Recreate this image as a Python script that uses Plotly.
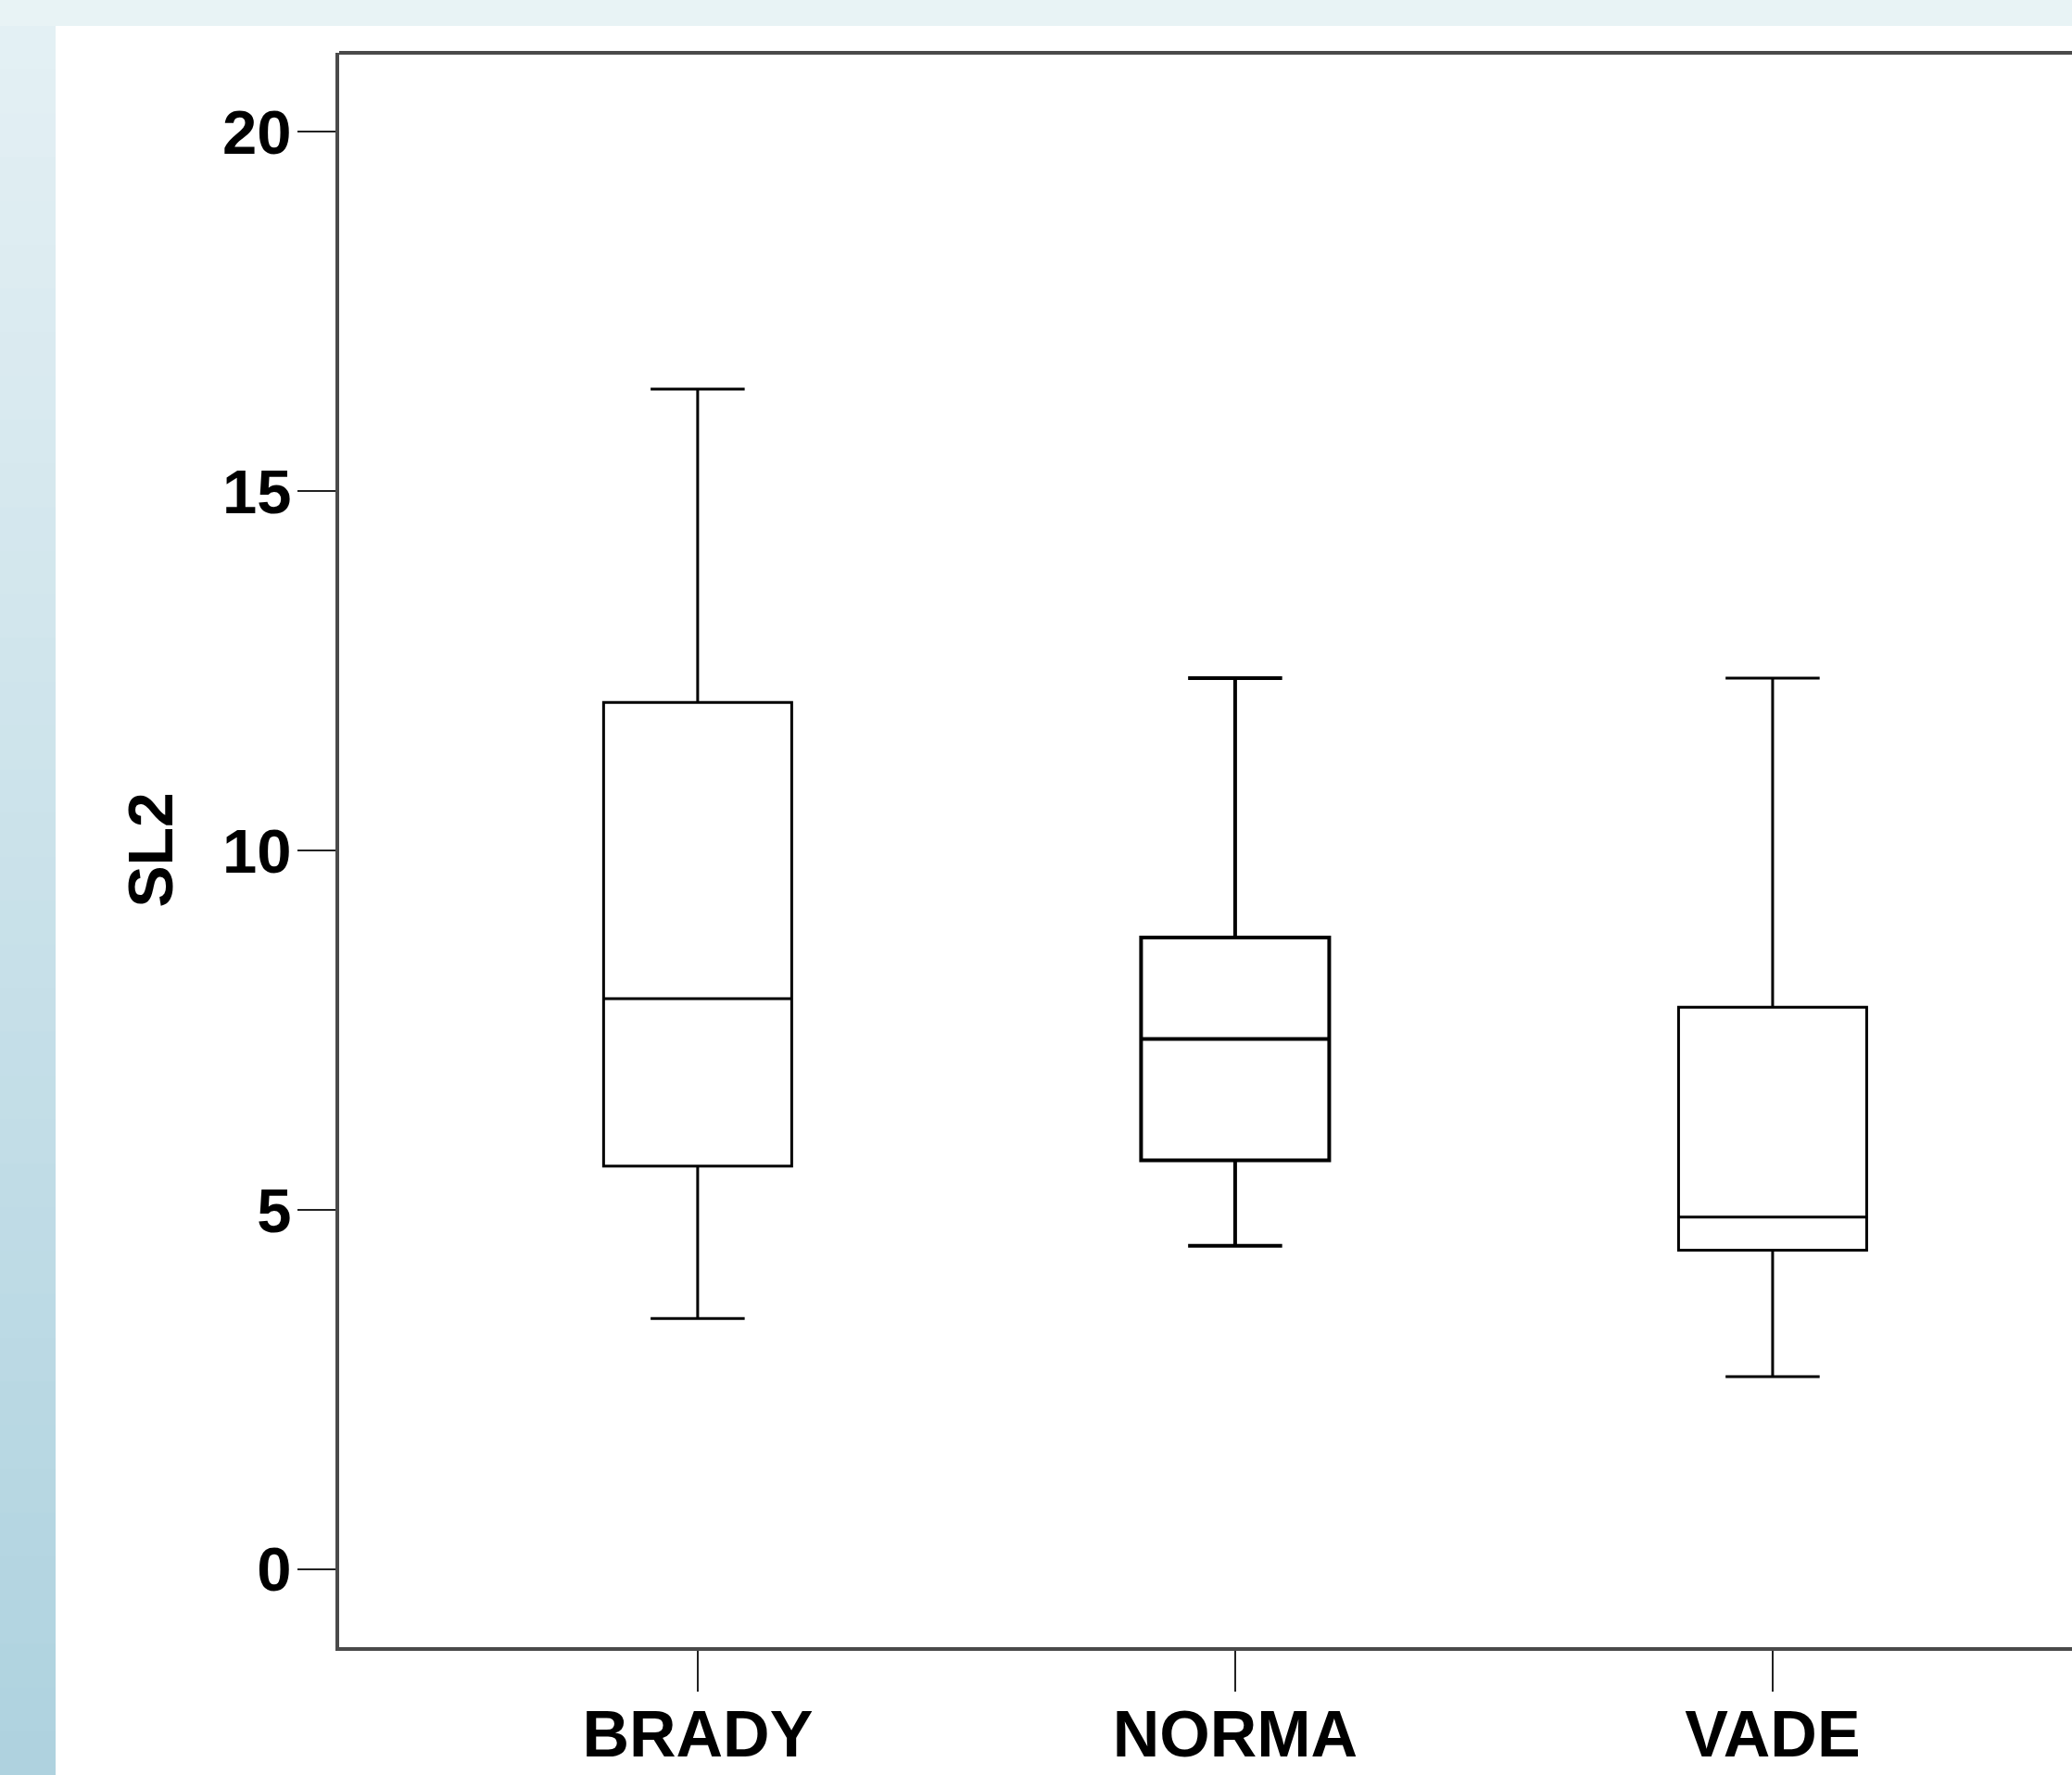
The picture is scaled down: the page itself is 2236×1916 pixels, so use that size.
import plotly.graph_objects as go

# ---- data ----
categories = ["BRADY", "NORMA", "VADE"]
lower_whisker = [3.49, 4.50, 2.68]
q1_values = [5.61, 5.69, 4.44]
median_values = [7.94, 7.38, 4.90]
q3_values = [12.06, 8.79, 7.82]
upper_whisker = [16.42, 12.40, 12.40]
y_tick_vals = [0, 5, 10, 15, 20]
y_title = "SL2"

W, H = 2236, 1916
L, T, B = 366, 57, 138
pw, ph = W - L, H - T - B

def px(X):
    return (X - L) / pw

def py(Y):
    return (H - B - Y) / ph

line_widths = [3, 4, 3]

fig = go.Figure()
for i, cat in enumerate(categories):
    fig.add_trace(go.Box(
        x=[cat],
        q1=[q1_values[i]],
        median=[median_values[i]],
        q3=[q3_values[i]],
        lowerfence=[lower_whisker[i]],
        upperfence=[upper_whisker[i]],
        width=0.35,
        whiskerwidth=0.5,
        fillcolor="white",
        line=dict(color="black", width=line_widths[i]),
        boxpoints=False,
        showlegend=False,
        hoverinfo="skip",
    ))

shapes = []
# white slide area
shapes.append(dict(type="rect", xref="paper", yref="paper",
                   x0=px(60), x1=px(W + 50), y0=py(28), y1=py(H + 50),
                   fillcolor="white", line=dict(width=0), layer="below"))
# left gradient strip
n = 40
top_c = (0xe4, 0xf0, 0xf4)
bot_c = (0xae, 0xd2, 0xdf)
y_start, y_end = 28, H
for k in range(n):
    t = (k + 0.5) / n
    c = tuple(int(round(top_c[j] + (bot_c[j] - top_c[j]) * t)) for j in range(3))
    ya = y_start + (y_end - y_start) * k / n
    yb = y_start + (y_end - y_start) * (k + 1) / n + 1
    shapes.append(dict(type="rect", xref="paper", yref="paper",
                       x0=px(-5), x1=px(60), y0=py(yb), y1=py(ya),
                       fillcolor="rgb(%d,%d,%d)" % c, line=dict(width=0), layer="below"))
# top frame line
shapes.append(dict(type="line", xref="paper", yref="paper",
                   x0=0, x1=1.2, y0=1, y1=1,
                   line=dict(color="#4a4a4a", width=4), layer="above"))

font_family = "Liberation Sans, Arial, sans-serif"

fig.update_layout(
    width=W, height=H,
    margin=dict(l=L, r=0, t=T, b=B),
    paper_bgcolor="#e8f3f5",
    plot_bgcolor="white",
    boxmode="overlay",
    shapes=shapes,
    font=dict(family=font_family, color="black"),
    xaxis=dict(
        type="category",
        categoryorder="array", categoryarray=categories,
        range=[-0.667, 2.557],
        automargin=False,
        showline=True, linecolor="#4a4a4a", linewidth=4,
        ticks="outside", ticklen=44, tickwidth=2, tickcolor="#222222",
        ticklabelstandoff=-14,
        tickfont=dict(size=70, family=font_family, weight="bold", color="black"),
        showgrid=False, zeroline=False,
    ),
    yaxis=dict(
        range=[-1.083, 21.10],
        tickvals=y_tick_vals,
        automargin=False,
        showline=True, linecolor="#4a4a4a", linewidth=4,
        ticks="outside", ticklen=41, tickwidth=2, tickcolor="#222222",
        ticklabelstandoff=-7,
        tickfont=dict(size=67, family=font_family, weight="bold", color="black"),
        showgrid=False, zeroline=False,
        title=dict(text=y_title, standoff=32,
                   font=dict(size=68, family=font_family, weight="bold", color="black")),
    ),
)

fig.write_html(
    "out.html",
    config={"displayModeBar": False},
    post_script="document.body.style.margin='0';document.body.style.overflow='hidden';",
)
